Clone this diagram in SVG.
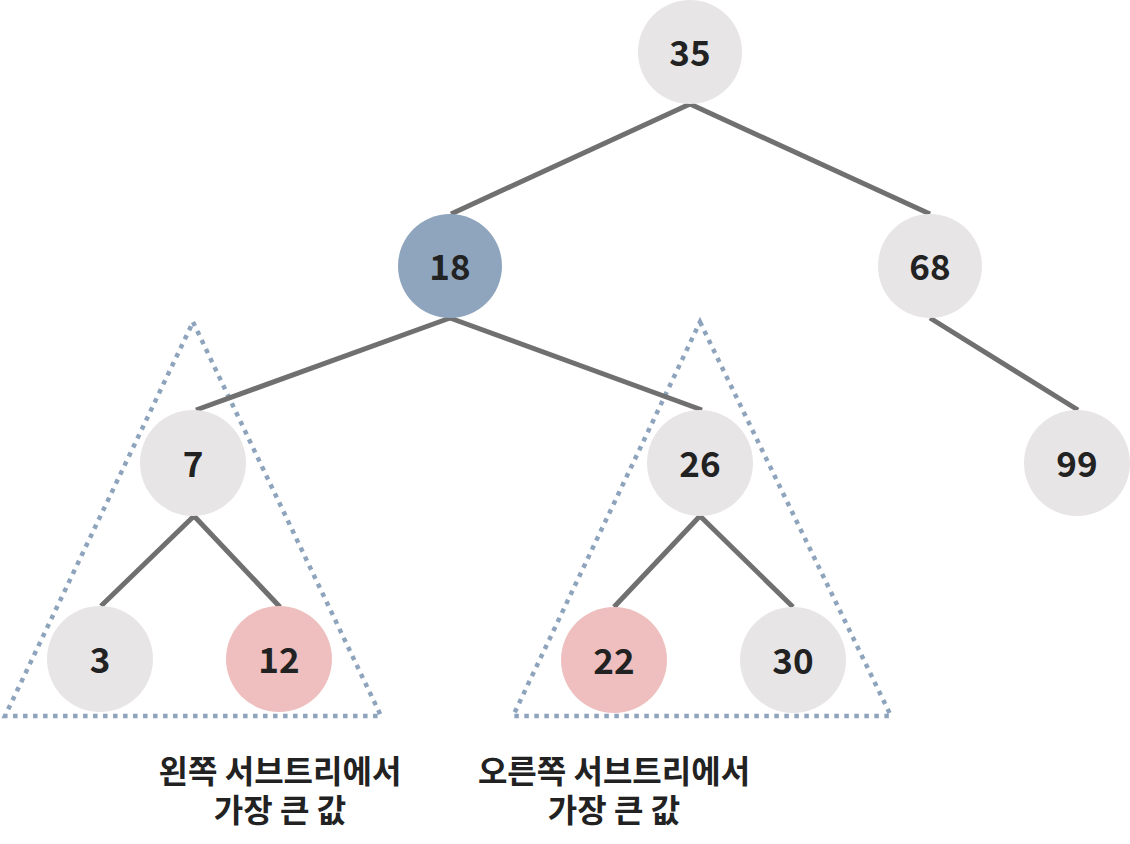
<svg xmlns="http://www.w3.org/2000/svg" width="1130" height="844" viewBox="0 0 1130 844">
<style>
.edge{stroke:#707070;stroke-width:5;fill:none}
.tri{stroke:#8ea4bd;stroke-width:4.5;fill:none;stroke-dasharray:4.5 5.5}
.n{fill:#e7e5e6}
.blue{fill:#8fa5bd}
.pink{fill:#efbfbf}
.t{font-family:"Noto Sans CJK KR","Noto Sans",sans-serif;font-weight:bold;font-size:35px;fill:#222;text-anchor:middle;dominant-baseline:central}
.lbl{font-family:"Noto Sans CJK KR","Noto Sans",sans-serif;font-weight:bold;font-size:32px;fill:#222;text-anchor:middle}
</style>
<rect width="1130" height="844" fill="#ffffff"/>
<g id="subtrees">
<polygon class="tri" points="193,322 381,716 5,716"/>
<polygon class="tri" points="700,322 891,716 513,716"/>
</g>
<g id="connectors">
<line class="edge" x1="690" y1="104" x2="451" y2="214"/>
<line class="edge" x1="690" y1="104" x2="930" y2="214"/>
<line class="edge" x1="450" y1="318" x2="196" y2="410"/>
<line class="edge" x1="450" y1="318" x2="702" y2="410"/>
<line class="edge" x1="930" y1="318" x2="1078" y2="410"/>
<line class="edge" x1="194" y1="516" x2="101" y2="606"/>
<line class="edge" x1="194" y1="516" x2="280" y2="607"/>
<line class="edge" x1="700" y1="516" x2="614" y2="607"/>
<line class="edge" x1="700" y1="516" x2="793" y2="607"/>
</g>
<g id="n35"><circle class="n" cx="690" cy="52" r="52"/><text class="t" x="690" y="50">35</text></g>
<g id="n18"><circle class="blue" cx="450" cy="266" r="52"/><text class="t" x="450" y="264">18</text></g>
<g id="n68"><circle class="n" cx="930" cy="266" r="52"/><text class="t" x="930" y="264">68</text></g>
<g id="n7"><circle class="n" cx="193" cy="463" r="53"/><text class="t" x="193" y="461">7</text></g>
<g id="n26"><circle class="n" cx="700" cy="463" r="53"/><text class="t" x="700" y="461">26</text></g>
<g id="n99"><circle class="n" cx="1077" cy="463" r="53"/><text class="t" x="1077" y="461">99</text></g>
<g id="n3"><circle class="n" cx="100" cy="659" r="53"/><text class="t" x="100" y="657">3</text></g>
<g id="n12"><circle class="pink" cx="279" cy="659" r="53"/><text class="t" x="279" y="657">12</text></g>
<g id="n22"><circle class="pink" cx="614" cy="660" r="53"/><text class="t" x="614" y="658">22</text></g>
<g id="n30"><circle class="n" cx="793" cy="660" r="53"/><text class="t" x="793" y="658">30</text></g>
<g id="label-left">
<text class="lbl" x="280" y="783"><tspan x="280">왼쪽 서브트리에서</tspan><tspan x="280" dy="39">가장 큰 값</tspan></text>
</g>
<g id="label-right">
<text class="lbl" x="614" y="783"><tspan x="614">오른쪽 서브트리에서</tspan><tspan x="614" dy="39">가장 큰 값</tspan></text>
</g>
</svg>
